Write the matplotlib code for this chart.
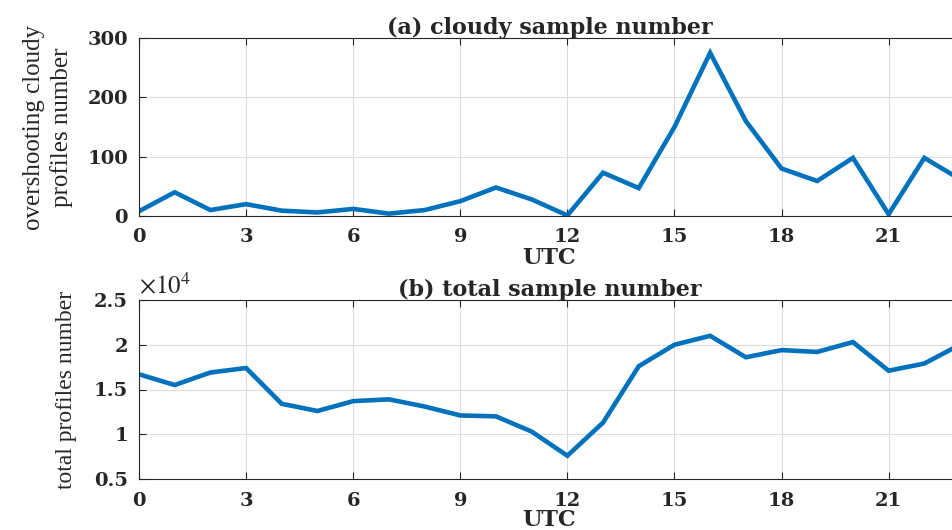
import matplotlib
matplotlib.use("Agg")
import matplotlib.pyplot as plt
from matplotlib.ticker import FuncFormatter, MultipleLocator

hours = list(range(24))
cloudy = [8, 40, 10, 20, 9, 6, 12, 4, 10, 25, 48, 28, 1, 73, 47, 150, 275, 160, 80, 59, 98, 3, 98, 62]
total = [16700, 15500, 16900, 17400, 13400, 12600, 13700, 13900, 13100, 12100, 12000, 10300, 7600,
         11300, 17600, 20000, 21000, 18600, 19400, 19200, 20300, 17100, 17900, 20000]
xticks = [0, 3, 6, 9, 12, 15, 18, 21]

plt.rcParams['font.family'] = ['Liberation Serif', 'DejaVu Serif']
plt.rcParams['mathtext.fontset'] = 'stix'

BOLD = ['DejaVu Serif']

W, H = 953, 530
fig = plt.figure(figsize=(W / 100, H / 100), dpi=100)

def axes_px(l, t, r, b):
    return fig.add_axes([l / W, 1 - b / H, (r - l) / W, (b - t) / H])

ax1 = axes_px(139, 38, 960, 216)
ax2 = axes_px(139, 300, 960, 479)

blue = '#0072BD'
dark = '#262626'
for ax in (ax1, ax2):
    ax.set_xlim(0, 23)
    ax.set_xticks(xticks)
    ax.grid(True, color='#dcdcdc', linewidth=0.8)
    ax.set_axisbelow(True)
    ax.tick_params(axis='both', direction='in', length=5, width=0.8, top=True,
                   colors=dark)
    ax.tick_params(axis='x', pad=9)
    ax.tick_params(axis='y', pad=8)
    for sp in ax.spines.values():
        sp.set_color(dark)
        sp.set_linewidth(0.8)

ax1.plot(hours, cloudy, color=blue, linewidth=3.3, solid_joinstyle='miter')
ax1.set_ylim(0, 300)
ax1.set_yticks([0, 100, 200, 300])
ax1.set_title('(a) cloudy sample number', fontsize=16, fontweight='bold',
              family=BOLD, pad=3, color=dark)
ax1.set_xlabel('UTC', fontsize=16, fontweight='bold', family=BOLD, labelpad=0, color=dark)
ax1.set_ylabel('overshooting cloudy\nprofiles number', fontsize=18, labelpad=10,
               linespacing=1.3, color=dark)

ax2.plot(hours, [v / 1e4 for v in total], color=blue, linewidth=3.3, solid_joinstyle='miter')
ax2.set_ylim(0.5, 2.5)
ax2.yaxis.set_major_locator(MultipleLocator(0.5))
ax2.yaxis.set_major_formatter(FuncFormatter(lambda v, p: '%g' % v))
ax2.set_title('(b) total sample number', fontsize=16, fontweight='bold',
              family=BOLD, pad=3, color=dark)
ax2.set_xlabel('UTC', fontsize=16, fontweight='bold', family=BOLD, labelpad=0, color=dark)
ax2.set_ylabel('total profiles number', fontsize=17, labelpad=12, color=dark)
ax2.text(0.0, 1.01, r'$\times10^{4}$', transform=ax2.transAxes, fontsize=18,
         ha='left', va='bottom', color=dark)

for ax in (ax1, ax2):
    for lab in ax.get_xticklabels() + ax.get_yticklabels():
        lab.set_fontweight('bold')
        lab.set_family(BOLD)
        lab.set_fontsize(14)

fig.savefig('out.png', dpi=100)
